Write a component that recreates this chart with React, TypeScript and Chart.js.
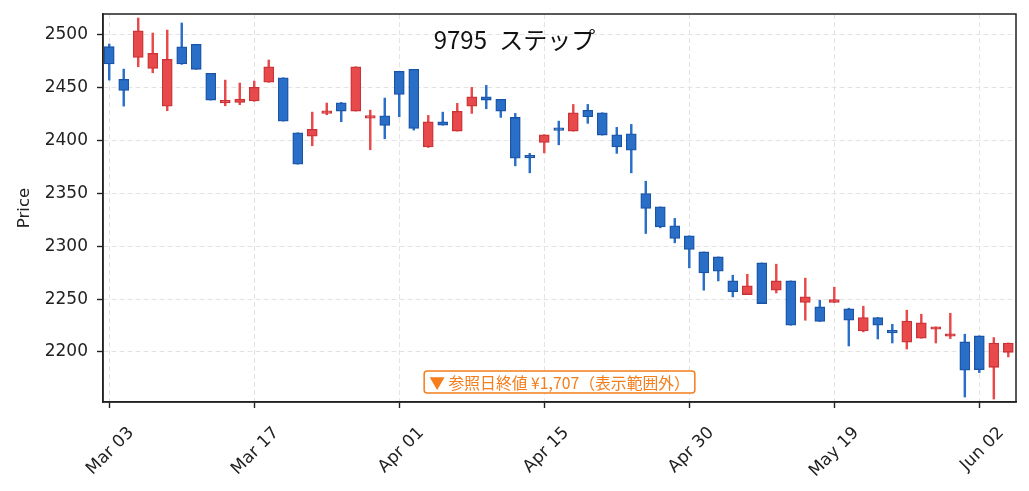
import React, { useEffect, useRef } from 'react';
import { Chart, registerables } from 'chart.js';

Chart.register(...registerables);

const TITLE = '9795 ステップ';
const Y_LABEL = 'Price';
const REF_NOTE = '▼ 参照日終値 ¥1,707（表示範囲外）';

const dates = [
  'Mar 03', 'Mar 04', 'Mar 05', 'Mar 06', 'Mar 07', 'Mar 10', 'Mar 11', 'Mar 12', 'Mar 13', 'Mar 14',
  'Mar 17', 'Mar 18', 'Mar 19', 'Mar 21', 'Mar 24', 'Mar 25', 'Mar 26', 'Mar 27', 'Mar 28', 'Mar 31',
  'Apr 01', 'Apr 02', 'Apr 03', 'Apr 04', 'Apr 07', 'Apr 08', 'Apr 09', 'Apr 10', 'Apr 11', 'Apr 14',
  'Apr 15', 'Apr 16', 'Apr 17', 'Apr 18', 'Apr 21', 'Apr 22', 'Apr 23', 'Apr 24', 'Apr 25', 'Apr 28',
  'Apr 30', 'May 01', 'May 02', 'May 07', 'May 08', 'May 09', 'May 12', 'May 13', 'May 14', 'May 15',
  'May 19', 'May 20', 'May 21', 'May 22', 'May 23', 'May 26', 'May 27', 'May 28', 'May 29', 'May 30',
  'Jun 02', 'Jun 03', 'Jun 04',
];

const opens = [
  2488.7, 2457.8, 2478.6, 2468.2, 2432.5, 2488.6, 2490.9, 2463.5, 2435.5, 2436.0,
  2437.3, 2455.2, 2459.3, 2407.3, 2404.1, 2425.6, 2435.7, 2427.8, 2421.2, 2423.3,
  2465.4, 2467.3, 2394.0, 2417.7, 2408.9, 2432.5, 2441.3, 2438.9, 2421.8, 2384.5,
  2398.2, 2410.5, 2408.9, 2428.5, 2426.2, 2405.4, 2406.3, 2349.9, 2337.2, 2319.3,
  2309.8, 2294.6, 2289.9, 2267.2, 2254.3, 2284.2, 2258.4, 2267.2, 2246.8, 2242.6,
  2246.8, 2240.7, 2219.9, 2232.6, 2219.0, 2209.2, 2213.0, 2221.5, 2214.9, 2209.5,
  2215.2, 2185.5, 2199.7,
];
const highs = [
  2491.2, 2467.5, 2515.8, 2501.6, 2504.4, 2511.1, 2491.0, 2463.5, 2457.1, 2454.3,
  2456.2, 2476.1, 2459.3, 2407.3, 2426.8, 2435.4, 2436.0, 2469.7, 2428.7, 2440.1,
  2465.4, 2467.3, 2423.7, 2426.8, 2435.1, 2450.2, 2452.1, 2438.9, 2425.6, 2387.8,
  2405.5, 2418.3, 2434.1, 2434.1, 2426.2, 2412.4, 2415.2, 2361.5, 2337.2, 2326.3,
  2309.8, 2294.6, 2289.9, 2272.6, 2273.5, 2284.2, 2283.0, 2267.2, 2269.8, 2248.9,
  2261.2, 2241.4, 2243.3, 2232.6, 2226.2, 2239.5, 2235.7, 2223.7, 2236.6, 2216.8,
  2215.2, 2213.6, 2208.5,
];
const lows = [
  2457.1, 2432.5, 2469.7, 2464.0, 2428.1, 2472.0, 2467.3, 2438.2, 2432.8, 2433.8,
  2437.0, 2455.0, 2418.3, 2377.6, 2395.0, 2424.3, 2417.7, 2427.8, 2391.2, 2401.6,
  2422.4, 2409.8, 2393.4, 2414.5, 2408.9, 2425.6, 2430.0, 2421.8, 2376.0, 2369.4,
  2388.3, 2395.9, 2408.9, 2416.2, 2405.1, 2387.8, 2369.4, 2312.0, 2317.4, 2303.2,
  2279.5, 2258.4, 2267.2, 2252.1, 2254.3, 2245.8, 2255.8, 2225.3, 2230.0, 2228.8,
  2246.8, 2205.7, 2219.0, 2212.3, 2208.5, 2202.8, 2213.0, 2208.5, 2212.7, 2157.4,
  2180.5, 2155.5, 2195.3,
];
const closes = [
  2472.3, 2447.4, 2503.8, 2482.4, 2476.7, 2472.3, 2467.3, 2438.2, 2437.0, 2439.2,
  2450.2, 2469.7, 2418.3, 2377.6, 2410.5, 2427.5, 2427.8, 2469.7, 2423.3, 2414.3,
  2443.6, 2411.4, 2417.7, 2414.5, 2427.5, 2441.3, 2438.2, 2427.8, 2383.3, 2383.5,
  2405.4, 2409.5, 2426.2, 2422.4, 2405.1, 2394.0, 2390.9, 2335.7, 2318.3, 2307.3,
  2296.9, 2274.8, 2276.3, 2257.1, 2262.5, 2245.8, 2267.2, 2225.3, 2252.1, 2228.8,
  2249.6, 2230.0, 2232.6, 2225.3, 2218.0, 2229.3, 2227.5, 2223.7, 2216.5, 2182.7,
  2183.3, 2208.5, 2208.5,
];

const Y_MIN = 2152.7;
const Y_MAX = 2519.6;
const Y_STEP = 50;
const X_MIN = -0.43;
const X_MAX = 62.53;
const X_STEP = 10;

const UP_FILL = '#e8494b';
const UP_EDGE = '#c93236';
const DOWN_FILL = '#2a6fc7';
const DOWN_EDGE = '#1b53a6';
const NOTE_COLOR = '#f47d1c';
const INK = '#222222';
const GRID = '#e4e4e4';
const LATIN = '"DejaVu Sans", sans-serif';
const CJK = '"Noto Sans CJK JP", "DejaVu Sans", sans-serif';
const TICK_SIZE = 17;

const overlayPlugin = {
  id: 'overlay',
  afterDraw(chart: any) {
    const { ctx, chartArea: a } = chart;
    ctx.save();
    // frame
    ctx.strokeStyle = INK;
    ctx.lineWidth = 1.5;
    ctx.strokeRect(a.left, a.top, a.right - a.left, a.bottom - a.top);
    // title
    ctx.fillStyle = '#111';
    ctx.font = `24px ${CJK}`;
    ctx.textAlign = 'center';
    ctx.textBaseline = 'alphabetic';
    (ctx as any).wordSpacing = '7px';
    ctx.fillText(TITLE, chart.width / 2, 48.5);
    (ctx as any).wordSpacing = '0px';
    // note box
    ctx.font = `15.8px ${CJK}`;
    const w = ctx.measureText(REF_NOTE).width;
    const cx = (a.left + a.right) / 2;
    const h = 22;
    const bw = w + 10;
    const by = a.bottom - 9 - h;
    const bx = cx - bw / 2;
    ctx.fillStyle = '#ffffff';
    ctx.strokeStyle = NOTE_COLOR;
    ctx.lineWidth = 1.5;
    ctx.beginPath();
    (ctx as any).roundRect(bx, by, bw, h, 3);
    ctx.fill();
    ctx.stroke();
    ctx.fillStyle = NOTE_COLOR;
    ctx.textAlign = 'center';
    ctx.textBaseline = 'middle';
    ctx.fillText(REF_NOTE, cx, by + h / 2 + 0.5);
    ctx.restore();
  },
};

export default function App() {
  const ref = useRef<HTMLCanvasElement>(null);
  useEffect(() => {
    const isUp = opens.map((o, i) => closes[i] >= o);
    const wicks = dates.map((_, i) => ({ x: i, y: [lows[i], highs[i]] }));
    const bodies = dates.map((_, i) => ({ x: i, y: [opens[i], closes[i]] }));
    const chart = new Chart(ref.current as HTMLCanvasElement, {
      type: 'bar',
      data: {
        datasets: [
          {
            label: 'body',
            data: bodies as any,
            order: 0,
            grouped: false,
            barThickness: 10,
            minBarLength: 2.5,
            backgroundColor: isUp.map((u) => (u ? UP_FILL : DOWN_FILL)),
            borderColor: isUp.map((u) => (u ? UP_EDGE : DOWN_EDGE)),
            borderWidth: 1.3,
            borderSkipped: false,
          } as any,
          {
            label: 'wick',
            data: wicks as any,
            order: 1,
            grouped: false,
            barThickness: 1.8,
            backgroundColor: isUp.map((u) => (u ? UP_FILL : DOWN_FILL)),
            borderWidth: 0,
          } as any,
        ],
      },
      options: {
        animation: false,
        responsive: true,
        maintainAspectRatio: false,
        layout: { padding: { top: 14, right: 13, left: 0, bottom: 0 } },
        plugins: { legend: { display: false }, tooltip: { enabled: false }, title: { display: false } },
        scales: {
          x: {
            type: 'linear',
            min: X_MIN,
            max: X_MAX,
            offset: false,
            afterFit: (s: any) => {
              s.height = 89;
              s.paddingLeft = 0;
              s.paddingRight = 0;
            },
            grid: {
              offset: false,
              color: GRID,
              lineWidth: 1,
              tickLength: 6,
              tickColor: INK,
              tickWidth: 1.4,
            },
            border: { color: INK, width: 1.5, dash: [5, 3] },
            ticks: {
              stepSize: X_STEP,
              includeBounds: false,
              autoSkip: false,
              minRotation: 45,
              maxRotation: 45,
              padding: 15,
              labelOffset: 22,
              color: INK,
              font: { family: LATIN, size: TICK_SIZE },
              callback: (v: any) => (Number.isInteger(v) && dates[v] ? dates[v] : ''),
            },
          },
          y: {
            type: 'linear',
            min: Y_MIN,
            max: Y_MAX,
            afterFit: (s: any) => {
              s.width = 103;
              s.paddingTop = 0;
              s.paddingBottom = 0;
            },
            grid: {
              color: GRID,
              lineWidth: 1,
              tickLength: 6,
              tickColor: INK,
              tickWidth: 1.4,
            },
            border: { color: INK, width: 1.5, dash: [5, 3] },
            ticks: {
              stepSize: Y_STEP,
              includeBounds: false,
              padding: 9,
              color: INK,
              font: { family: LATIN, size: TICK_SIZE },
              callback: (v: any) => String(v),
            },
            title: {
              display: true,
              text: Y_LABEL,
              color: INK,
              font: { family: LATIN, size: 16.5 },
              padding: { top: 15, bottom: 0 },
            },
          },
        },
      },
      plugins: [overlayPlugin],
    });
    return () => chart.destroy();
  }, []);
  return (
    <div style={{ position: 'absolute', left: 0, top: 0, width: 1029, height: 491, background: '#fff' }}>
      <canvas ref={ref} />
    </div>
  );
}
